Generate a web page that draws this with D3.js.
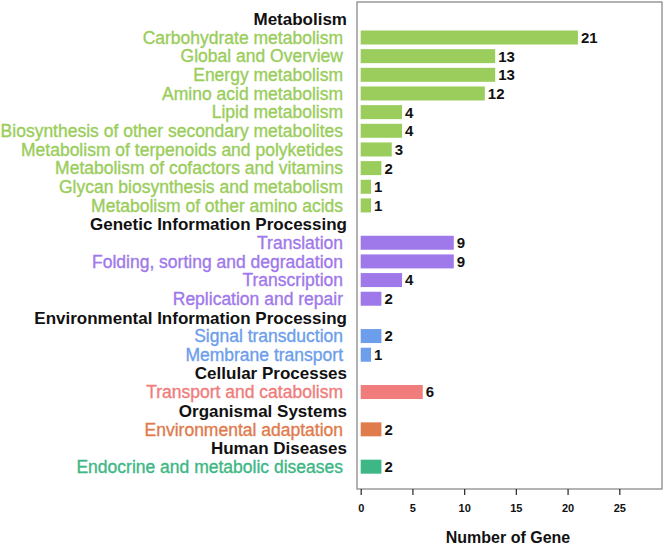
<!DOCTYPE html>
<html>
<head>
<meta charset="utf-8">
<script src="https://cdn.jsdelivr.net/npm/d3@7"></script>
<style>
  body { margin: 0; background: #fff; }
  svg { font-family: "Liberation Sans", Arial, sans-serif; }
</style>
</head>
<body>
<div id="chart"></div>
<script>
// KEGG level-1 groups, their colours and the level-2 categories under each
const groups = ["Metabolism", "Genetic Information Processing", "Environmental Information Processing",
  "Cellular Processes", "Organismal Systems", "Human Diseases"];
const groupColors = ["#9acd5b", "#9f78ea", "#6d9eeb", "#f07c7c", "#e07b4c", "#3db785"];

const categories = [
  "Carbohydrate metabolism", "Global and Overview", "Energy metabolism", "Amino acid metabolism",
  "Lipid metabolism", "Biosynthesis of other secondary metabolites", "Metabolism of terpenoids and polyketides",
  "Metabolism of cofactors and vitamins", "Glycan biosynthesis and metabolism", "Metabolism of other amino acids",
  "Translation", "Folding, sorting and degradation", "Transcription", "Replication and repair",
  "Signal transduction", "Membrane transport",
  "Transport and catabolism",
  "Environmental adaptation",
  "Endocrine and metabolic diseases"
];
const values = [21, 13, 13, 12, 4, 4, 3, 2, 1, 1, 9, 9, 4, 2, 2, 1, 6, 2, 2];
const categoryGroup = [0, 0, 0, 0, 0, 0, 0, 0, 0, 0, 1, 1, 1, 1, 2, 2, 3, 4, 5];
const xTicks = [0, 5, 10, 15, 20, 25];

const width = 663, height = 545;
const box = { left: 357, right: 662, top: 2, bottom: 489 };

// one row per group header followed by its categories
const rows = [];
groups.forEach((g, gi) => {
  rows.push({ id: "h" + gi, label: g, header: true });
  categories.forEach((c, ci) => {
    if (categoryGroup[ci] === gi) rows.push({ id: "c" + ci, label: c, value: values[ci], color: groupColors[gi] });
  });
});

const svg = d3.select("#chart").append("svg")
  .attr("width", width)
  .attr("height", height);

const x = d3.scaleLinear()
  .domain([0, 25])
  .range([360.7, 619.3]);

const y = d3.scaleBand()
  .domain(rows.map(d => d.id))
  .range([9.5, 476])
  .paddingInner(0.25)
  .paddingOuter(0.125);

// plot frame
svg.append("rect")
  .attr("x", box.left)
  .attr("y", box.top)
  .attr("width", box.right - box.left)
  .attr("height", box.bottom - box.top)
  .attr("fill", "none")
  .attr("stroke", "#8a8a8a")
  .attr("stroke-width", 1.3);

// bars
const barRows = rows.filter(d => !d.header);
svg.selectAll(".bar")
  .data(barRows)
  .enter()
  .append("rect")
  .attr("class", "bar")
  .attr("x", x(0))
  .attr("y", d => y(d.id))
  .attr("width", d => x(d.value) - x(0))
  .attr("height", y.bandwidth())
  .attr("fill", d => d.color);

// value labels
svg.selectAll(".val")
  .data(barRows)
  .enter()
  .append("text")
  .attr("x", d => x(d.value) + 3)
  .attr("y", d => y(d.id) + y.bandwidth() / 2)
  .attr("dy", "0.36em")
  .style("font-size", "15px")
  .style("font-weight", "bold")
  .attr("fill", "#111")
  .text(d => d.value);

// row labels
svg.selectAll(".lab")
  .data(rows)
  .enter()
  .append("text")
  .attr("x", d => d.header ? 347 : 343)
  .attr("y", d => y(d.id) + y.bandwidth() / 2)
  .attr("dy", "0.36em")
  .attr("text-anchor", "end")
  .style("font-size", d => d.header ? "17px" : "17.5px")
  .style("font-weight", d => d.header ? "bold" : "normal")
  .attr("fill", d => d.header ? "#111" : d.color)
  .attr("stroke", d => d.header ? "none" : d.color)
  .attr("stroke-width", 0.35)
  .text(d => d.label);

// x axis
const xAxis = svg.append("g")
  .attr("transform", "translate(0," + box.bottom + ")")
  .call(d3.axisBottom(x).tickValues(xTicks).tickSize(6).tickPadding(9));
xAxis.select(".domain").remove();
xAxis.selectAll("line").attr("stroke", "#333").attr("stroke-width", 1.3);
xAxis.selectAll("text")
  .style("font-size", "11px")
  .style("font-weight", "bold")
  .style("font-family", "Liberation Sans, Arial, sans-serif")
  .attr("fill", "#111");

svg.append("text")
  .attr("x", 508)
  .attr("y", 543)
  .attr("text-anchor", "middle")
  .style("font-size", "16px")
  .style("font-weight", "bold")
  .attr("fill", "#111")
  .text("Number of Gene");
</script>
</body>
</html>
